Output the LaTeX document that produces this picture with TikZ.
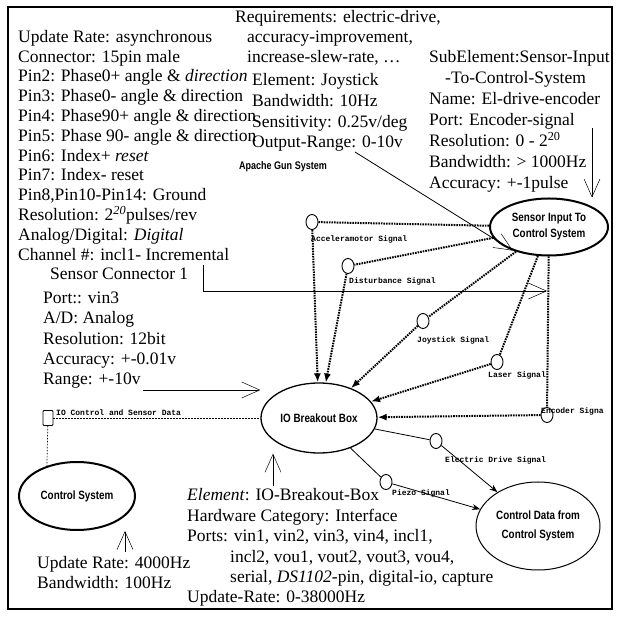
\documentclass[tikz,border=0pt]{standalone}
\usepackage{fontspec}
\setmainfont{Liberation Serif}
\setsansfont{Liberation Sans}
\setmonofont{Liberation Mono}
\usetikzlibrary{shapes.geometric,arrows.meta}

\newcommand{\narrow}[1]{\scalebox{0.82}[1]{#1}}

\begin{document}
\begin{tikzpicture}[x=1pt,y=-1pt, inner sep=0pt, >={Latex[length=9pt,width=7pt]},
  txt/.style={anchor=north west, align=left, font=\fontsize{17.5}{19.8}\selectfont},
  box/.style={ellipse, draw, font=\sffamily\bfseries\fontsize{12}{16}\selectfont, align=center},
  sigport/.style={ellipse, draw, line width=0.9pt, minimum width=12pt, minimum height=15pt},
  siglabel/.style={anchor=north west, font=\ttfamily\bfseries\fontsize{8}{9}\selectfont},
  dotlink/.style={line width=2pt, dash pattern=on 1.6pt off 1pt},
  thinlink/.style={line width=0.7pt, dash pattern=on 1.5pt off 1.5pt},
  outlink/.style={line width=0.8pt, -{Stealth[length=8pt,width=6pt]}},
  notearrow/.style={line width=0.8pt, -{Straight Barb[length=18pt,width=16pt,line width=0.5pt]}}]
\useasboundingbox (0,0) rectangle (619,617);
\draw[line width=1.2pt] (8,7) rectangle (612,609);

% main blocks
\node[box, line width=1.3pt, minimum width=116pt, minimum height=70pt] (io) at (319,418) {\narrow{IO Breakout Box}};
\node[box, line width=2pt, minimum width=118pt, minimum height=57pt] (sens) at (549,227) {\narrow{Sensor Input To}\\\narrow{Control System}};
\node[box, line width=2pt, minimum width=116pt, minimum height=68pt] (ctrl) at (77,496) {\narrow{Control System}};
\node[box, line width=1pt, minimum width=124pt, minimum height=88pt] (cdata) at (538,526) {\narrow{Control Data from}\\[3pt]\narrow{Control System}};
\node[font=\sffamily\bfseries\fontsize{11}{13}\selectfont] (apache) at (283,167) {\narrow{Apache Gun System}};

% signal ports
\node[sigport] (acc) at (312,222) {};
\node[sigport] (dist) at (348,266) {};
\node[sigport] (joy) at (423,321) {};
\node[sigport] (laser) at (497,362) {};
\node[sigport] (enc) at (547,415) {};
\node[sigport] (elec) at (436,441) {};
\node[sigport] (piezo) at (386,482) {};
\node[draw, line width=0.8pt, minimum width=10pt, minimum height=15pt, rounded corners=1pt] (iosq) at (48,418) {};

\node[siglabel] (acc-l) at (311,236) {Acceleramotor Signal};
\node[siglabel] (dist-l) at (349,278) {Disturbance Signal};
\node[siglabel] (joy-l) at (417,337) {Joystick Signal};
\node[siglabel] (laser-l) at (488,372) {Laser Signal};
\node[siglabel] (enc-l) at (541,408) {Encoder Signa};
\node[siglabel] (elec-l) at (445,457) {Electric Drive Signal};
\node[siglabel] (piezo-l) at (392,490) {Piezo Signal};
\node[siglabel, anchor=base west] (iosq-l) at (56,416) {IO Control and Sensor Data};

% links
\foreach \s in {acc,dist,joy,laser,enc}{
  \draw[dotlink] (sens) -- (\s);
  \draw[dotlink,->] (\s) -- (io);
}
\draw[line width=0.8pt] (io) -- (elec);
\draw[outlink] (elec) -- (cdata);
\draw[line width=0.8pt] (io) -- (piezo);
\draw[outlink] (piezo) -- (cdata);
\draw[thinlink] (iosq) -- (io);
\draw[thinlink] (iosq) -- (ctrl.135);

% text blocks
\node[txt] (rate) at (18,30) {Update Rate: asynchronous\\
Connector: 15pin male\\
Pin2: Phase0+ angle \& \textit{direction}\\
Pin3: Phase0- angle \& direction\\
Pin4: Phase90+ angle \& direction\\
Pin5: Phase 90- angle \& direction\\
Pin6: Index+ \textit{reset}\\
Pin7: Index- reset\\
Pin8,Pin10-Pin14: Ground\\
Resolution: 2\textsuperscript{\itshape 20}pulses/rev\\
Analog/Digital: \textit{Digital}\\
Channel \#: incl1- Incremental};
\node[txt] (sconn) at (50,267.6) {Sensor Connector 1};
\node[txt, font=\fontsize{17.5}{20.4}\selectfont] (vin) at (43,291.5) {Port:: vin3\\
A/D: Analog\\
Resolution: 12bit\\
Accuracy: +-0.01v\\
Range: +-10v};
\node[txt, font=\fontsize{17.5}{20}\selectfont] (req) at (235,10.5) {Requirements: electric-drive,\\
\hspace*{12pt}accuracy-improvement,\\
\hspace*{12pt}increase-slew-rate, \dots};
\node[txt, font=\fontsize{17.5}{20.6}\selectfont] (joyst) at (252,73.5) {Element: Joystick\\
Bandwidth: 10Hz\\
Sensitivity: 0.25v/deg\\
Output-Range: 0-10v};
\node[txt, font=\fontsize{17.5}{21}\selectfont] (sub) at (429,50.5) {SubElement:Sensor-Input\\
\hspace*{16pt}-To-Control-System\\
Name: El-drive-encoder\\
Port: Encoder-signal\\
Resolution: 0 - 2\textsuperscript{20}\\
Bandwidth: > 1000Hz\\
Accuracy: +-1pulse};
\node[txt, font=\fontsize{17.5}{20.4}\selectfont] (elem) at (187,488.5) {\textit{Element}: IO-Breakout-Box\\
Hardware Category: Interface\\
Ports: vin1, vin2, vin3, vin4, incl1,\\
\hspace*{43pt}incl2, vou1, vout2, vout3, vou4,\\
\hspace*{43pt}serial, \textit{DS1102}-pin, digital-io, capture\\
Update-Rate: 0-38000Hz};
\node[txt, font=\fontsize{17.5}{20}\selectfont] (csnote) at (37,556.5) {Update Rate: 4000Hz\\
Bandwidth: 100Hz};

% note arrows
\coordinate (con-tip) at (203,265);
\coordinate (con-end) at (547,291);
\draw[notearrow] (con-tip) |- (con-end);
\coordinate (rg-tip) at (143,390);
\draw[notearrow] (rg-tip) -- (rg-tip -| io.west);
\coordinate (or-tip) at (355,152);
\draw[notearrow] (or-tip) -- (sens.213);
\coordinate (sub-tip) at (592,128);
\draw[notearrow] (sub-tip) -- (sub-tip |- sens.north);
\coordinate (elem-tip) at (273,486);
\draw[notearrow] (elem-tip) -- (elem-tip |- io.south);
\coordinate (cs-tip) at (125,552);
\draw[notearrow] (cs-tip) -- (cs-tip |- ctrl.south);
\end{tikzpicture}
\end{document}
